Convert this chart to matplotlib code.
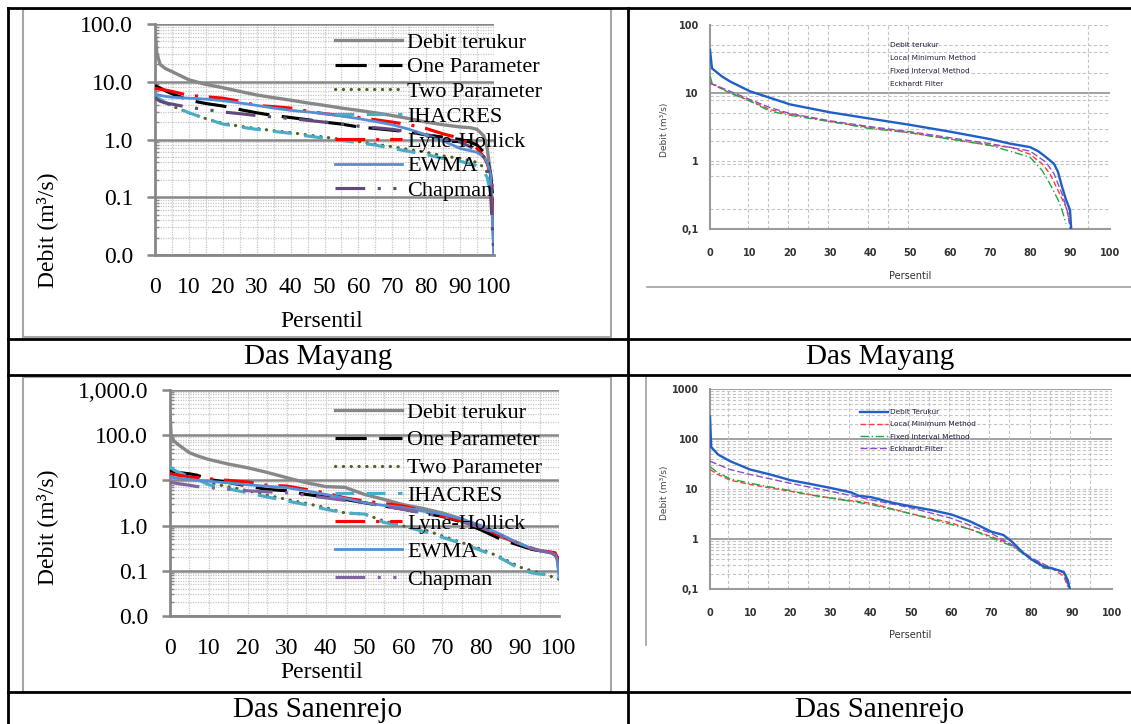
import numpy as np
import matplotlib
matplotlib.use('Agg')
import matplotlib.pyplot as plt
from matplotlib.ticker import FixedLocator, FuncFormatter, NullFormatter
from matplotlib.lines import Line2D
from matplotlib.patches import Rectangle

# ---- data: Das Mayang, model comparison (left top) ----
x_mayang = [0, 0.5, 1.5, 3, 5, 10, 15, 20, 25, 30, 35, 40, 45, 50, 55, 60, 65, 70,
            75, 80, 85, 90, 93, 95, 97, 98, 99, 99.5, 100]
mayang_terukur = [90, 32, 20, 17, 15, 10.8, 9.0, 7.9, 6.8, 5.9, 5.3, 4.8, 4.3, 3.9, 3.5, 3.2,
                  2.9, 2.6, 2.3, 2.0, 1.8, 1.65, 1.6, 1.5, 1.15, 0.7, 0.25, 0.06, 0.01]
mayang_one = [8.6, 8.3, 7.8, 7.0, 6.2, 4.8, 4.2, 3.8, 3.3, 2.9, 2.6, 2.4, 2.2, 2.0, 1.85, 1.65,
              1.55, 1.45, 1.35, 1.2, 1.1, 1.0, 0.9, 0.8, 0.6, 0.45, 0.25, 0.12, 0.07]
mayang_two = [5.5, 5.2, 4.8, 4.3, 3.8, 2.9, 2.3, 1.9, 1.7, 1.55, 1.42, 1.32, 1.2, 1.1, 1.0, 0.92,
              0.83, 0.75, 0.67, 0.6, 0.52, 0.47, 0.43, 0.4, 0.33, 0.27, 0.15, 0.08, 0.05]
mayang_ihacres = [5.8, 5.4, 5.0, 4.4, 3.9, 2.9, 2.3, 1.85, 1.65, 1.5, 1.38, 1.28, 1.15, 1.05, 0.97,
                  0.88, 0.8, 0.7, 0.62, 0.55, 0.47, 0.42, 0.38, 0.35, 0.28, 0.22, 0.12, 0.07, 0.06]
mayang_lyne = [7.7, 7.6, 7.4, 7.2, 6.8, 5.8, 5.5, 5.2, 4.6, 3.9, 3.7, 3.5, 3.1, 2.8, 2.6, 2.4,
               2.2, 2.0, 1.8, 1.55, 1.25, 1.05, 0.85, 0.7, 0.5, 0.38, 0.25, 0.15, 0.02]
mayang_ewma = [6.3, 6.0, 5.8, 5.6, 5.4, 5.2, 5.0, 4.7, 4.3, 3.9, 3.5, 3.2, 3.0, 2.8, 2.55, 2.3,
               2.05, 1.8, 1.5, 1.2, 0.95, 0.7, 0.64, 0.6, 0.5, 0.4, 0.25, 0.05, 0.01]
mayang_chapman = [5.4, 5.0, 4.6, 4.3, 4.1, 3.6, 3.3, 3.0, 2.8, 2.6, 2.45, 2.3, 2.15, 2.0, 1.85,
                  1.7, 1.6, 1.5, 1.35, 1.2, 1.05, 0.9, 0.75, 0.62, 0.5, 0.4, 0.12, 0.03, 0.01]

# ---- data: Das Sanenrejo, model comparison (left bottom) ----
x_sanen = [0, 0.3, 1, 2, 5, 7, 10, 15, 20, 25, 30, 35, 40, 45, 50, 55, 60, 65, 70, 75, 80,
           85, 90, 93, 95, 98, 99, 99.5, 100]
sanen_terukur = [320, 100, 75, 63, 41, 35, 29, 23, 19, 15, 11.5, 8.9, 7.3, 7.0, 4.9, 3.8, 2.9,
                 2.4, 1.9, 1.4, 0.85, 0.56, 0.4, 0.3, 0.28, 0.25, 0.23, 0.2, 0.09]
sanen_one = [16, 15.8, 15.5, 15, 14, 13, 10.5, 9, 7.5, 6.3, 5.9, 4.9, 4.3, 3.8, 3.2, 2.7, 2.3,
             1.9, 1.6, 1.2, 0.8, 0.5, 0.36, 0.3, 0.28, 0.25, 0.23, 0.2, 0.13]
sanen_two = [19, 18, 16, 15, 12, 10.5, 8.9, 7.2, 5.9, 4.7, 3.8, 3.1, 2.5, 1.9, 1.8, 1.26, 0.98,
             0.83, 0.59, 0.42, 0.3, 0.2, 0.12, 0.1, 0.09, 0.075, 0.07, 0.068, 0.065]
sanen_ihacres = [21, 19, 17, 15.5, 12, 10.5, 8.0, 6.5, 5.3, 4.3, 3.5, 2.9, 2.3, 1.9, 1.8, 1.17,
                 0.98, 0.75, 0.55, 0.4, 0.28, 0.19, 0.11, 0.09, 0.085, 0.08, 0.075, 0.072, 0.07]
sanen_lyne = [14.5, 14, 13.5, 13, 12, 11.5, 10.9, 10, 9.2, 7.8, 7.5, 6.3, 5.3, 4.1, 3.5, 3.1,
              2.7, 2.1, 1.6, 1.26, 0.9, 0.6, 0.39, 0.3, 0.28, 0.26, 0.25, 0.2, 0.12]
sanen_ewma = [12, 11.8, 11.5, 11.2, 10.5, 10, 9.6, 8.8, 8.0, 7.4, 6.9, 5.9, 4.9, 4.0, 3.2, 2.8,
              2.5, 2.1, 1.8, 1.4, 1.0, 0.64, 0.39, 0.31, 0.28, 0.25, 0.23, 0.18, 0.08]
sanen_chapman = [9.1, 9.0, 8.8, 8.5, 7.8, 7.3, 6.9, 6.4, 5.9, 5.6, 5.3, 4.7, 4.1, 3.6, 3.2, 2.7,
                 2.3, 1.9, 1.6, 1.2, 0.9, 0.6, 0.39, 0.32, 0.28, 0.25, 0.22, 0.19, 0.15]

left_labels = ['Debit terukur', 'One Parameter', 'Two Parameter', 'IHACRES',
               'Lyne-Hollick', 'EWMA', 'Chapman']

# ---- data: Das Mayang, filter comparison (right top) ----
rm_terukur_x = [0, 0.5, 2, 3, 5, 10, 15, 20, 30, 40, 50, 60, 70, 75, 80, 82, 84, 86, 87, 88,
                89, 90, 90.3]
rm_terukur_y = [43, 23, 19.5, 17.5, 14.8, 10.6, 8.5, 6.8, 5.2, 4.2, 3.4, 2.7, 2.1, 1.8, 1.6,
                1.4, 1.14, 0.91, 0.69, 0.42, 0.27, 0.19, 0.1]
rm_local_x = [0, 5, 10, 15, 20, 30, 40, 50, 60, 70, 75, 80, 83, 85, 87, 89, 90]
rm_local_y = [14, 10, 7.7, 5.7, 4.9, 3.8, 3.1, 2.6, 2.1, 1.7, 1.6, 1.26, 0.91, 0.65, 0.37,
              0.21, 0.12]
rm_fixed_x = [0, 0.5, 5, 10, 15, 20, 30, 40, 50, 60, 70, 80, 83, 85, 87, 88, 89]
rm_fixed_y = [18, 14, 10, 7.6, 5.4, 4.7, 3.8, 3.0, 2.6, 2.1, 1.7, 1.14, 0.73, 0.46, 0.27,
              0.19, 0.12]
rm_eck_x = [0, 5, 10, 15, 20, 30, 40, 50, 60, 70, 80, 84, 86, 88, 89.5, 90]
rm_eck_y = [14, 10.6, 8, 6.1, 5.0, 3.9, 3.2, 2.7, 2.2, 1.8, 1.4, 0.96, 0.65, 0.33, 0.17, 0.1]
rm_labels = ['Debit terukur', 'Local Minimum Method', 'Fixed Interval Method', 'Eckhardt Filter']

# ---- data: Das Sanenrejo, filter comparison (right bottom) ----
rs_terukur_x = [0, 0.3, 2, 5, 10, 15, 20, 25, 30, 35, 37, 40, 45, 50, 55, 60, 65, 70, 73, 75,
                78, 80, 83, 85, 88, 89, 89.5]
rs_terukur_y = [280, 69, 49, 36, 24.5, 19.5, 15, 12.6, 10.5, 8.6, 7.3, 6.9, 5.4, 4.5, 3.8, 3.1,
                2.2, 1.4, 1.2, 0.9, 0.52, 0.39, 0.28, 0.26, 0.22, 0.15, 0.1]
rs_local_x = [0, 2, 5, 10, 15, 20, 30, 40, 50, 60, 70, 75, 80, 85, 88, 89]
rs_local_y = [24.5, 19.5, 15, 12.3, 10.5, 9, 6.6, 5.2, 3.2, 2.1, 1.12, 0.77, 0.39, 0.26, 0.18, 0.11]
rs_fixed_x = [0, 2, 5, 10, 20, 24, 30, 40, 50, 60, 65, 70, 75, 80, 83, 86, 88, 89]
rs_fixed_y = [28, 21, 16, 13, 9.3, 7.8, 6.6, 4.9, 3.2, 1.95, 1.55, 1.05, 0.73, 0.39, 0.26,
              0.25, 0.21, 0.13]
rs_eck_x = [0, 5, 10, 20, 30, 40, 50, 60, 70, 75, 80, 85, 88, 89]
rs_eck_y = [36, 24.5, 19.5, 13, 9, 6.1, 4.2, 2.6, 1.3, 0.77, 0.42, 0.26, 0.21, 0.12]
rs_labels = ['Debit Terukur', 'Local Minimum Method', 'Fixed Interval Method', 'Eckhardt Filter']

captions = ['Das Mayang', 'Das Mayang', 'Das Sanenrejo', 'Das Sanenrejo']

# ---------------------------------------------------------------------------
W, H = 1131, 724
plt.rcParams['font.family'] = ['Liberation Serif', 'DejaVu Serif']
fig = plt.figure(figsize=(W / 100, H / 100), dpi=100)
fig.patch.set_facecolor('white')


def rect(x0, y0, x1, y1):
    return [x0 / W, 1 - y1 / H, (x1 - x0) / W, (y1 - y0) / H]


def fx(x):
    return x / W


def fy(y):
    return 1 - y / H


GRAY = '#878787'
GRID = '#c6c6c6'


def left_chart(box, x, ys, ylo, yhi, leg_top, leg_space, colors):
    ax = fig.add_axes(rect(*box))
    ax.set_yscale('log')
    dashes = [None, (10, 4), (0.1, 2.4), (6, 4), (9.5, 3.5, 1, 3.5), None,
              (9.5, 4, 1, 4, 1, 4)]
    widths = [2.4, 2.25, 2.25, 2.25, 2.25, 2.0, 2.25]
    for lab, y, c, d, lw in zip(left_labels, ys, colors, dashes, widths):
        ln, = ax.plot(x, y, color=c, lw=lw, label=lab, zorder=3)
        if d is not None:
            ln.set_dashes(d)
            ln.set_dash_capstyle('round' if d[0] < 1 else 'butt')
    ax.set_xlim(0, 100)
    ax.set_ylim(ylo, yhi)
    majors = 10.0 ** np.arange(np.log10(ylo), np.log10(yhi) + 0.5)
    ax.yaxis.set_major_locator(FixedLocator(majors))
    ax.yaxis.set_minor_locator(FixedLocator([m * d for d in majors[:-1] for m in range(2, 10)]))
    ax.yaxis.set_major_formatter(FuncFormatter(lambda v, p: f'{v:,.1f}'))
    ax.yaxis.set_minor_formatter(NullFormatter())
    ax.xaxis.set_major_locator(FixedLocator(range(0, 101, 10)))
    ax.xaxis.set_minor_locator(FixedLocator(range(5, 101, 10)))
    ax.set_axisbelow(True)
    ax.grid(axis='y', which='major', color=GRAY, lw=1.8, ls='-')
    ax.grid(axis='y', which='minor', color=GRID, lw=0.9, ls=(0, (1, 1)))
    ax.grid(axis='x', which='both', color=GRID, lw=0.9, ls=(0, (1, 1)))
    for s in ['top', 'right']:
        ax.spines[s].set_visible(False)
    for s in ['left', 'bottom']:
        ax.spines[s].set_color(GRAY)
        ax.spines[s].set_linewidth(2)
    ax.tick_params(axis='y', which='major', direction='out', length=5.8, width=1.8,
                   color=GRAY, labelsize=17, pad=10)
    ax.tick_params(axis='y', which='minor', direction='in', length=3, width=1, color=GRAY)
    ax.tick_params(axis='x', which='both', length=0, labelsize=17, pad=16)
    ax.legend(loc='upper left', bbox_to_anchor=(fx(335), fy(leg_top)),
              bbox_transform=fig.transFigure, frameon=False, fontsize=16,
              handlelength=3.0, handletextpad=0.25, labelspacing=leg_space,
              borderpad=0, borderaxespad=0)
    return ax


def right_chart(box, ylo, yhi, series, labels, solid_h, dashed_h, vlines,
                leg_top, leg_space, show_handles):
    ax = fig.add_axes(rect(*box))
    ax.set_yscale('log')
    styles = [('#1f5fc6', 1.7, None), ('#ff3b3b', 1.0, (4, 2)),
              ('#21a845', 1.0, (6, 2, 1, 2)), ('#8a4fc8', 1.0, (5, 2))]
    handles = []
    for (xs, ys), (c, lw, d), lab, z in zip(series, styles, labels, [5, 3, 3, 4]):
        ln, = ax.plot(xs, ys, color=c, lw=lw, label=lab, zorder=z)
        if d is not None:
            ln.set_dashes(d)
        handles.append(ln)
    ax.set_xlim(0, 100)
    ax.set_ylim(ylo, yhi)
    majors = 10.0 ** np.arange(np.log10(ylo), np.log10(yhi) + 0.5)
    ax.yaxis.set_major_locator(FixedLocator(majors))
    ax.yaxis.set_minor_locator(FixedLocator([]))
    ax.yaxis.set_major_formatter(FuncFormatter(lambda v, p: f'{v:g}'.replace('.', ',')))
    ax.xaxis.set_major_locator(FixedLocator(range(0, 101, 10)))
    for v in solid_h:
        ax.axhline(v, color='#9a9a9a', lw=1.3, zorder=1)
    for v in dashed_h:
        ax.axhline(v, color='#c4c4c4', lw=0.8, ls=(0, (3, 2)), zorder=1)
    for v in vlines:
        ax.axvline(v, color='#c4c4c4', lw=0.8, ls=(0, (3, 2)), zorder=1)
    for s in ['top', 'right']:
        ax.spines[s].set_visible(False)
    for s in ['left', 'bottom']:
        ax.spines[s].set_color('#9a9a9a')
        ax.spines[s].set_linewidth(1.5)
    ax.tick_params(which='both', length=0)
    ax.tick_params(axis='y', pad=8)
    ax.tick_params(axis='x', pad=14)
    for t in ax.get_xticklabels() + ax.get_yticklabels():
        t.set_fontfamily('DejaVu Sans')
        t.set_fontsize(7)
        t.set_fontweight('bold')
        t.set_color('#333333')
    leg = ax.legend(handles=handles, loc='upper left',
                    bbox_to_anchor=(fx(860), fy(leg_top)), bbox_transform=fig.transFigure,
                    frameon=False, prop={'family': 'DejaVu Sans', 'size': 5.3},
                    handlelength=3.8, handletextpad=0.3, labelspacing=leg_space,
                    borderpad=0, borderaxespad=0)
    for t in leg.get_texts():
        t.set_color('#202040')
    if not show_handles:
        for h in leg.legend_handles:
            h.set_visible(False)
    return ax


# left charts
left_chart((155, 24, 494, 255), x_mayang,
           [mayang_terukur, mayang_one, mayang_two, mayang_ihacres, mayang_lyne,
            mayang_ewma, mayang_chapman], 0.01, 100, 32, 0.19,
           [GRAY, 'black', '#4f6228', '#4bacc6', '#ff0000', '#558ed5', '#604a7b'])
left_chart((170, 390, 559, 616), x_sanen,
           [sanen_terukur, sanen_one, sanen_two, sanen_ihacres, sanen_lyne,
            sanen_ewma, sanen_chapman], 0.01, 1000, 402, 0.33,
           [GRAY, 'black', '#4f6228', '#4bacc6', '#ff0000', '#558ed5', '#8064a2'])

# right charts
vl = [4.5 + 5 * k for k in range(19)]
right_chart((710, 25, 1110, 229),
            0.1, 100,
            [(rm_terukur_x, rm_terukur_y), (rm_local_x, rm_local_y),
             (rm_fixed_x, rm_fixed_y), (rm_eck_x, rm_eck_y)],
            rm_labels, [10], [0.2, 0.6, 0.9, 1, 2, 3, 5, 8, 9, 20, 40, 50, 100],
            [9.5, 14.5, 19.5, 24.5, 29.5, 39.5, 44.5, 49.5, 94.5], 42, 0.93, False)
right_chart((710, 389, 1112, 589),
            0.1, 1000,
            [(rs_terukur_x, rs_terukur_y), (rs_local_x, rs_local_y),
             (rs_fixed_x, rs_fixed_y), (rs_eck_x, rs_eck_y)],
            rs_labels, [1, 100, 1000],
            [m * d for d in [0.1, 1, 10, 100] for m in range(2, 10)] + [10],
            vl, 409, 0.82, True)

# axis titles
fig.text(fx(322), fy(321), 'Persentil', ha='center', va='center', fontsize=17)
fig.text(fx(322), fy(673), 'Persentil', ha='center', va='center', fontsize=17)
fig.text(fx(47), fy(230), 'Debit (m³/s)', ha='center', va='center', rotation=90, fontsize=17)
fig.text(fx(47), fy(527), 'Debit (m³/s)', ha='center', va='center', rotation=90, fontsize=17)
for yy in [276, 635]:
    fig.text(fx(910), fy(yy), 'Persentil', ha='center', va='center', fontsize=7,
             family='DejaVu Sans', color='#333333')
for yy in [130, 493]:
    fig.text(fx(665), fy(yy), 'Debit (m³/s)', ha='center', va='center', rotation=90,
             fontsize=6.5, family='DejaVu Sans', color='#444444')

# captions
for (cx, cy), txt in zip([(318, 357), (880, 357), (318, 710), (880, 710)], captions):
    fig.text(fx(cx), fy(cy), txt, ha='center', va='center', fontsize=21)

# chart frames
for y0, y1 in [(9, 337), (377, 692)]:
    fig.add_artist(Rectangle((fx(23), fy(y1)), (611 - 23) / W, (y1 - y0) / H,
                             transform=fig.transFigure, fill=False,
                             edgecolor='#a6a6a6', lw=1.5))
fig.add_artist(Line2D([fx(647), fx(1131)], [fy(287), fy(287)], transform=fig.transFigure,
                      color='#a0a0a0', lw=1.2))
fig.add_artist(Line2D([fx(646), fx(646)], [fy(377), fy(645)], transform=fig.transFigure,
                      color='#a0a0a0', lw=1.2))

# table lines
for (x0, y0, x1, y1) in [(7.7, 8, 1131, 8), (7.7, 8, 7.7, 724), (628, 8, 628, 724),
                         (7.7, 339, 1131, 339), (7.7, 375, 1131, 375),
                         (7.7, 692, 1131, 692)]:
    fig.add_artist(Line2D([fx(x0), fx(x1)], [fy(y0), fy(y1)], transform=fig.transFigure,
                          color='black', lw=2))

fig.savefig('out.png', dpi=100, facecolor='white')
